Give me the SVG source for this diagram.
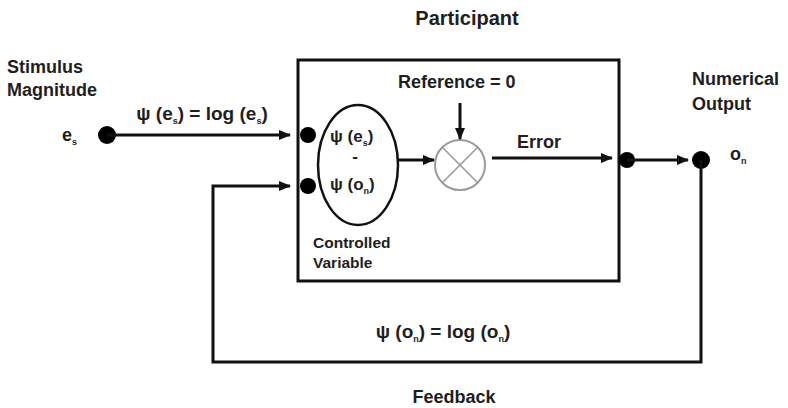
<svg xmlns="http://www.w3.org/2000/svg" width="788" height="408" viewBox="0 0 788 408">
<style>
text{font-family:"Liberation Sans",Arial,sans-serif;font-weight:bold;fill:#1e1e1e}
.t18{font-size:18px}
.t16{font-size:15.5px}
.t17{font-size:17px}
.sub{font-size:9px}
.ln{stroke:#111;stroke-width:3;fill:none}
.dot{fill:#000}
</style>
<defs>
<marker id="ah" markerWidth="12" markerHeight="10" refX="11" refY="5" orient="auto" markerUnits="userSpaceOnUse">
<path d="M0,0 L12,5 L0,10 Z" fill="#111"/>
</marker>
</defs>
<rect width="788" height="408" fill="#fff"/>

<g id="participant">
<rect x="298" y="60" width="321" height="221" fill="none" stroke="#111" stroke-width="3"/>
<text class="t18" x="467" y="25" text-anchor="middle" style="font-size:20px">Participant</text>
</g>

<g id="stimulus">
<text class="t18" x="7" y="73">Stimulus</text>
<text class="t18" x="7" y="96">Magnitude</text>
<text class="t18" x="62" y="141">e<tspan class="sub" dy="4">s</tspan></text>
<circle class="dot" cx="107" cy="135" r="9"/>
</g>

<g id="controlled-variable">
<ellipse cx="358" cy="165" rx="40" ry="60" fill="none" stroke="#111" stroke-width="2.5"/>
<text class="t17" x="330" y="142">ψ (e<tspan class="sub" dy="4">s</tspan><tspan dy="-4">)</tspan></text>
<text class="t17" x="355" y="162" text-anchor="middle">-</text>
<text class="t17" x="330" y="190">ψ (o<tspan class="sub" dy="4">n</tspan><tspan dy="-4">)</tspan></text>
<text class="t16" x="313" y="248">Controlled</text>
<text class="t16" x="313" y="268">Variable</text>
<circle class="dot" cx="308" cy="135" r="8"/>
<circle class="dot" cx="308" cy="186" r="8"/>
</g>

<g id="comparator">
<circle cx="460" cy="165" r="25" fill="none" stroke="#9a9a9a" stroke-width="2"/>
<path d="M442.3,147.3 L477.7,182.7 M477.7,147.3 L442.3,182.7" stroke="#9a9a9a" stroke-width="1.6"/>
<text class="t18" x="398" y="88">Reference = 0</text>
</g>

<g id="output">
<circle class="dot" cx="627" cy="160" r="8"/>
<circle class="dot" cx="701" cy="160" r="9"/>
<text class="t18" x="692" y="85">Numerical</text>
<text class="t18" x="692" y="110">Output</text>
<text class="t18" x="730" y="160">o<tspan class="sub" dy="4">n</tspan></text>
</g>

<g id="connectors">
<line class="ln" x1="107" y1="135" x2="290" y2="135" marker-end="url(#ah)"/>
<path class="ln" d="M701,160 V362 H213 V186 H290" marker-end="url(#ah)"/>
<line class="ln" x1="398" y1="160" x2="434" y2="160" marker-end="url(#ah)"/>
<line class="ln" x1="460" y1="103" x2="460" y2="139" marker-end="url(#ah)"/>
<line class="ln" x1="492" y1="158" x2="612" y2="158" marker-end="url(#ah)"/>
<line class="ln" x1="627" y1="160" x2="688" y2="160" marker-end="url(#ah)"/>
</g>

<g id="labels">
<text class="t18" x="202" y="120" text-anchor="middle" style="font-size:19px">ψ (e<tspan class="sub" dy="4">s</tspan><tspan dy="-4">) = log (e</tspan><tspan class="sub" dy="4">s</tspan><tspan dy="-4">)</tspan></text>
<text class="t18" x="517" y="148">Error</text>
<text class="t18" x="443" y="338" text-anchor="middle" style="font-size:19px">ψ (o<tspan class="sub" dy="4">n</tspan><tspan dy="-4">) = log (o</tspan><tspan class="sub" dy="4">n</tspan><tspan dy="-4">)</tspan></text>
<text class="t18" x="454" y="403" text-anchor="middle">Feedback</text>
</g>
</svg>
